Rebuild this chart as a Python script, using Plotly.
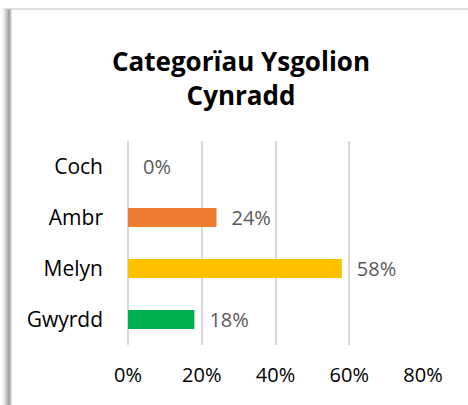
import plotly.graph_objects as go

categorïau = ["Coch", "Ambr", "Melyn", "Gwyrdd"]
canran = [0.00, 0.24, 0.58, 0.18]
lliwiau = ["#FF0000", "#ED7D31", "#FFC000", "#00B050"]
ticiau_x = [0, 0.2, 0.4, 0.6, 0.8]
teitl = "Categorïau Ysgolion<br>Cynradd"

FONT = "Open Sans"

fig = go.Figure(go.Bar(
    x=canran,
    y=categorïau,
    orientation="h",
    marker=dict(color=lliwiau, line=dict(width=0)),
    text=canran,
    texttemplate="\u2002\u200a%{x:.0%}",
    textposition="outside",
    constraintext="none",
    cliponaxis=False,
    textfont=dict(family=FONT, size=20, color="#595959"),
    hoverinfo="skip",
))

# card frame with a soft shadow on the left
L, R, T, B = 128, 45, 141, 60
W, H = 468 - L - R, 405 - T - B
def px(x):
    return (x - L) / W
def py(y):
    return (405 - B - y) / H

shapes = []
for i, c in enumerate(["#f6f6f6", "#eeeeee", "#e2e2e2", "#d4d4d4", "#c6c6c6", "#b8b8b8", "#aaaaaa", "#9e9e9e"]):
    shapes.append(dict(type="rect", xref="paper", yref="paper",
                       x0=px(2 + i), x1=px(12), y0=py(420), y1=py(8 + i * 0.25),
                       fillcolor=c, line=dict(width=0), layer="below"))
shapes.append(dict(type="rect", xref="paper", yref="paper",
                   x0=px(11), x1=px(480), y0=py(420), y1=py(9),
                   fillcolor="white", line=dict(color="#d6d6d6", width=1.5), layer="below"))

fig.update_layout(
    width=468, height=405,
    margin=dict(l=L, r=R, t=T, b=B),
    paper_bgcolor="white",
    plot_bgcolor="rgba(0,0,0,0)",
    showlegend=False,
    bargap=0.63,
    shapes=shapes,
    title=dict(text=teitl, x=0.515, xanchor="center", y=1 - 71 / 405, yanchor="middle",
               font=dict(family=FONT, size=26, color="black", weight="bold")),
    font=dict(family=FONT, size=20, color="black"),
)
fig.update_xaxes(
    range=[0, 0.8], tickvals=ticiau_x, tickformat=".0%",
    showgrid=True, gridcolor="#d9d9d9", gridwidth=1.5,
    zeroline=True, zerolinecolor="#d9d9d9", zerolinewidth=1.5,
    showline=False, ticks="", ticklabelstandoff=16,
    tickfont=dict(family=FONT, size=20, color="black"),
)
fig.update_yaxes(
    autorange="reversed", showgrid=False, zeroline=False, showline=False,
    ticks="", ticklabelstandoff=24,
    tickfont=dict(family=FONT, size=21, color="black"),
)

fig.write_html("out.html", config={"displayModeBar": False},
               post_script="document.body.style.margin='0';")
